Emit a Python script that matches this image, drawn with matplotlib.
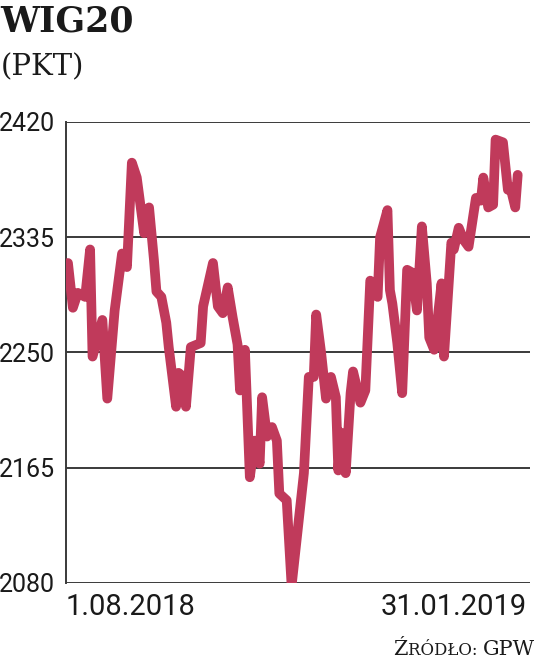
import matplotlib
matplotlib.use("Agg")
import matplotlib.pyplot as plt
import pandas as pd

# ---- data ----
start_date = "2018-08-01"
day_offsets = [0, 2, 4, 7, 9, 10, 14, 16, 19, 22, 24, 26, 28, 31, 33, 35, 36, 38, 40, 41,
               44, 45, 47, 48, 50, 54, 55, 59, 61, 63, 65, 67, 69, 70, 72, 74, 76, 78, 79, 81,
               83, 85, 86, 89, 91, 96, 98, 100, 101, 103, 105, 107, 109, 110, 111, 113, 115, 116, 119, 121,
               123, 126, 127, 130, 131, 132, 134, 136, 138, 140, 142, 144, 146, 147, 149, 152, 153, 156, 157, 159,
               161, 163, 166, 168, 169, 171, 173, 174, 177, 179, 180, 182, 183]
wig20 = [2316, 2283, 2294, 2291, 2326, 2247, 2274, 2216, 2281, 2323, 2313, 2390, 2379, 2338, 2357, 2318, 2295, 2291, 2272, 2254,
         2210, 2235, 2232, 2210, 2254, 2257, 2284, 2316, 2284, 2279, 2298, 2276, 2256, 2222, 2252, 2158, 2185, 2168, 2217, 2188,
         2195, 2185, 2146, 2141, 2078, 2161, 2232, 2232, 2278, 2250, 2216, 2232, 2217, 2163, 2191, 2161, 2220, 2236, 2213, 2222,
         2303, 2291, 2335, 2355, 2296, 2286, 2257, 2220, 2311, 2309, 2281, 2343, 2301, 2261, 2252, 2301, 2247, 2331, 2326, 2342,
         2333, 2328, 2364, 2362, 2379, 2357, 2359, 2407, 2405, 2370, 2372, 2357, 2381]
y_ticks = [2080, 2165, 2250, 2335, 2420]
x_labels = ["1.08.2018", "31.01.2019"]
title = "WIG20"
unit = "(PKT)"

dates = pd.Timestamp(start_date) + pd.to_timedelta(day_offsets, unit="D")

W, H = 536, 666
fig = plt.figure(figsize=(W / 100, H / 100), dpi=100)
fig.patch.set_facecolor("white")

def fx(px):
    return px / W

def fy(py):
    return 1 - py / H

ax = fig.add_axes([fx(66), fy(583), fx(530) - fx(66), fy(122) - fy(583)])
ax.set_facecolor("white")

ax.plot(dates, wig20, color="#C03A5B", lw=7.0, solid_joinstyle="round",
        solid_capstyle="round", zorder=3)

for v in y_ticks:
    ax.axhline(v, color="#3a3a3a", lw=1.4, zorder=2)

ax.set_ylim(y_ticks[0], y_ticks[-1])
ax.set_xlim(pd.Timestamp(start_date) - pd.Timedelta(days=0.8),
            pd.Timestamp(start_date) + pd.Timedelta(days=188))

for s in ["top", "right", "bottom"]:
    ax.spines[s].set_visible(False)
ax.spines["left"].set_color("#3a3a3a")
ax.spines["left"].set_linewidth(1.4)

sans = ["Roboto", "DejaVu Sans"]
ax.set_yticks(y_ticks)
ax.set_yticklabels([str(v) for v in y_ticks], fontsize=18, family=sans, color="#1a1a1a")
ax.tick_params(axis="y", length=0, pad=8)
ax.set_xticks([])

# date labels
fig.text(fx(66), fy(607), x_labels[0], ha="left", va="center", fontsize=21,
         family=sans, color="#1a1a1a")
fig.text(fx(527), fy(607), x_labels[1], ha="right", va="center", fontsize=21,
         family=sans, color="#1a1a1a")

# title & unit
fig.text(fx(0), fy(21), title, ha="left", va="center", fontsize=25,
         family="DejaVu Serif", weight="bold", color="#1a1a1a")
fig.text(fx(1), fy(67), unit, ha="left", va="center", fontsize=21,
         family="DejaVu Serif", color="#1a1a1a")

# source in small caps: Ź + RÓDŁO: + GPW
fig.canvas.draw()
r = fig.canvas.get_renderer()
ysrc = fy(655)
t3 = fig.text(fx(535), ysrc, "GPW", ha="right", va="baseline", fontsize=15,
              family="DejaVu Serif", color="#1a1a1a")
bb = t3.get_window_extent(r)
t2 = fig.text(bb.x0 / W, ysrc, "RÓDŁO: ", ha="right", va="baseline", fontsize=12,
              family="DejaVu Serif", color="#1a1a1a")
bb2 = t2.get_window_extent(r)
fig.text(bb2.x0 / W, ysrc, "Ź", ha="right", va="baseline", fontsize=15,
         family="DejaVu Serif", color="#1a1a1a")

fig.savefig("out.png", dpi=100, facecolor="white")
